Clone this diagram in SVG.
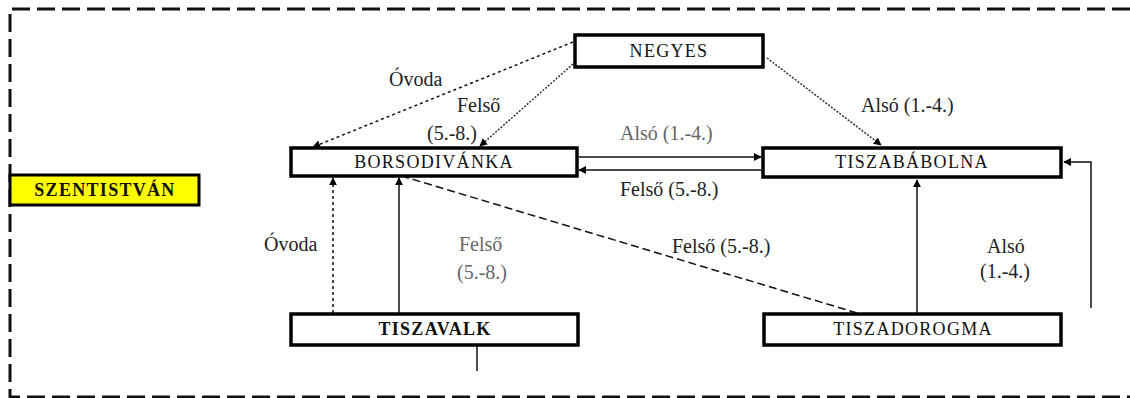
<svg xmlns="http://www.w3.org/2000/svg" width="1130" height="398" viewBox="0 0 1130 398">
<style>
.node{fill:#fff;stroke:#000;stroke-width:3.5}
text{font-family:'Liberation Serif','DejaVu Serif','Times New Roman',serif}
.nt{font-size:18px;letter-spacing:1.3px;fill:#111;text-anchor:middle}
.lb{font-size:20px;fill:#222}
.faint{fill:#666}
.c{fill:none;stroke:#111;stroke-width:1.5}
.dot{stroke-dasharray:3,3}
.fine{stroke-dasharray:2,1.5;stroke:#333}
.dash{stroke-dasharray:8,4}
.border{fill:none;stroke:#111;stroke-width:3;stroke-dasharray:18,7}
</style>
<defs>
<marker id="ah" viewBox="0 0 10 10" refX="9" refY="5" markerWidth="8" markerHeight="8" markerUnits="userSpaceOnUse" orient="auto">
<path d="M0,0 L10,5 L0,10 z" fill="#000"/>
</marker>
</defs>
<rect width="1130" height="398" fill="#fff"/>
<g id="border">
<path class="border" d="M1130,9 L10,9 L10,397 L1130,397"/>
</g>
<g id="connectors">
<line class="c dot" x1="573" y1="42" x2="313" y2="147" marker-end="url(#ah)"/>
<line class="c fine" x1="573" y1="64" x2="480" y2="146" marker-end="url(#ah)"/>
<line class="c fine" x1="767" y1="58" x2="881" y2="145" marker-end="url(#ah)"/>
<line class="c" x1="579" y1="157" x2="761" y2="157" marker-end="url(#ah)"/>
<line class="c" x1="761" y1="170" x2="579" y2="170" marker-end="url(#ah)"/>
<line class="c dot" x1="333" y1="313" x2="333" y2="178" marker-end="url(#ah)"/>
<line class="c" x1="399" y1="313" x2="399" y2="178" marker-end="url(#ah)"/>
<line class="c dash" x1="857" y1="313" x2="405" y2="177"/>
<line class="c" x1="917" y1="313" x2="917" y2="180" marker-end="url(#ah)"/>
<polyline class="c" points="1091,308 1091,162 1064,162" marker-end="url(#ah)"/>
<line class="c" x1="477" y1="346" x2="477" y2="371"/>
<text class="lb" x="389" y="86">Óvoda</text>
<text class="lb" x="457" y="112">Felső</text>
<text class="lb" x="427" y="140">(5.-8.)</text>
<text class="lb" x="861" y="112">Alsó (1.-4.)</text>
<text class="lb faint" x="620" y="140">Alsó (1.-4.)</text>
<text class="lb" x="620" y="196">Felső (5.-8.)</text>
<text class="lb" x="264" y="251">Óvoda</text>
<text class="lb faint" x="459" y="251">Felső</text>
<text class="lb faint" x="457" y="279">(5.-8.)</text>
<text class="lb" x="672" y="253">Felső (5.-8.)</text>
<text class="lb" x="987" y="253">Alsó</text>
<text class="lb" x="980" y="278">(1.-4.)</text>
</g>
<g id="szentistvan">
<rect x="10" y="175" width="189" height="30" fill="#ffff00" stroke="#000" stroke-width="3"/>
<text class="nt" x="105" y="196" font-weight="bold">SZENTISTVÁN</text>
</g>
<g id="negyes">
<rect class="node" x="575" y="35" width="188" height="32"/>
<text class="nt" x="669" y="57">NEGYES</text>
</g>
<g id="borsodivanka">
<rect class="node" x="291" y="148" width="286" height="28"/>
<text class="nt" x="434" y="168">BORSODIVÁNKA</text>
</g>
<g id="tiszababolna">
<rect class="node" x="763" y="148" width="298" height="29"/>
<text class="nt" x="912" y="168">TISZABÁBOLNA</text>
</g>
<g id="tiszavalk">
<rect class="node" x="291" y="314" width="287" height="31"/>
<text class="nt" x="435" y="335" font-weight="bold">TISZAVALK</text>
</g>
<g id="tiszadorogma">
<rect class="node" x="764" y="314" width="297" height="31"/>
<text class="nt" x="913" y="335">TISZADOROGMA</text>
</g>
</svg>
